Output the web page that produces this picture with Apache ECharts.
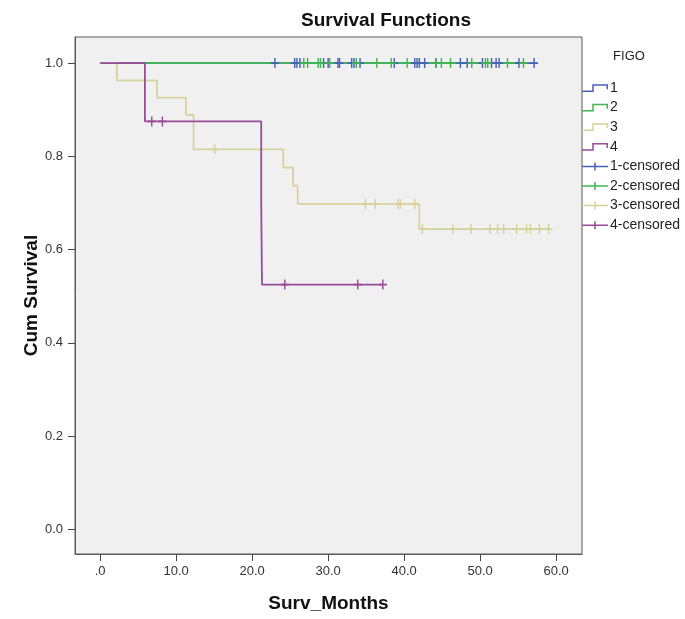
<!DOCTYPE html>
<html>
<head>
<meta charset="utf-8">
<script src="https://cdn.jsdelivr.net/npm/echarts@6/dist/echarts.min.js"></script>
<style>
  html, body { margin: 0; padding: 0; background: #ffffff; }
  #chart { width: 685px; height: 619px; }
</style>
</head>
<body>
<div id="chart"></div>
<script>
// Kaplan-Meier survival by FIGO stage: step times / survival, and censored times / survival.
const groupNames = ['1', '2', '3', '4'];
const groupColors = ['#4763B5', '#3FB652', '#D6D29C', '#984B97'];

const g1StepTimes = [0, 57.1];
const g1StepSurv = [1.0, 1.0];
const g1CensTimes = [23.0, 25.6, 25.9, 26.3, 29.4, 30.0, 31.3, 31.5, 33.1, 33.4, 34.2, 38.7, 41.4, 41.7, 42.0, 42.7, 44.2, 47.4, 48.3, 50.3, 51.5, 52.1, 52.5, 55.1, 57.1];
const g1CensSurv = [1, 1, 1, 1, 1, 1, 1, 1, 1, 1, 1, 1, 1, 1, 1, 1, 1, 1, 1, 1, 1, 1, 1, 1, 1];

const g2StepTimes = [0, 55.7];
const g2StepSurv = [1.0, 1.0];
const g2CensTimes = [26.8, 27.3, 28.7, 29.0, 30.2, 33.7, 36.4, 38.3, 40.4, 44.2, 44.9, 46.1, 48.9, 50.7, 51.0, 53.6, 55.7];
const g2CensSurv = [1, 1, 1, 1, 1, 1, 1, 1, 1, 1, 1, 1, 1, 1, 1, 1, 1];

const g3StepTimes = [0, 2.2, 7.5, 11.3, 12.3, 24.1, 25.4, 26.0, 42.0, 59.0];
const g3StepSurv = [1.0, 0.963, 0.926, 0.889, 0.815, 0.776, 0.737, 0.698, 0.644, 0.644];
const g3CensTimes = [15.1, 34.9, 36.2, 39.2, 39.5, 41.4, 42.4, 46.4, 48.8, 51.3, 52.3, 53.1, 54.8, 56.1, 56.6, 57.8, 59.0];
const g3CensSurv = [0.815, 0.698, 0.698, 0.698, 0.698, 0.698, 0.644, 0.644, 0.644, 0.644, 0.644, 0.644, 0.644, 0.644, 0.644, 0.644, 0.644];

const g4StepTimes = [0, 5.9, 21.2, 21.3, 37.2];
const g4StepSurv = [1.0, 0.875, 0.700, 0.525, 0.525];
const g4CensTimes = [6.8, 8.2, 24.3, 33.9, 37.2];
const g4CensSurv = [0.875, 0.875, 0.525, 0.525, 0.525];

const xTicks = [0, 10, 20, 30, 40, 50, 60];
const yTicks = [0, 0.2, 0.4, 0.6, 0.8, 1.0];

const steps = [
  [g1StepTimes, g1StepSurv],
  [g2StepTimes, g2StepSurv],
  [g3StepTimes, g3StepSurv],
  [g4StepTimes, g4StepSurv]
];
const censored = [
  [g1CensTimes, g1CensSurv],
  [g2CensTimes, g2CensSurv],
  [g3CensTimes, g3CensSurv],
  [g4CensTimes, g4CensSurv]
];

const pairs = (xs, ys) => xs.map((x, i) => [x, ys[i]]);

// Legend glyphs: a small step outline and a censoring cross
const stepIcon = 'path://M0,6.25 L10.25,6.25 L10.25,0 L26,0 L26,5 L24.5,5 L24.5,1.5 L11.75,1.5 L11.75,7.75 L0,7.75 Z';
const crossIcon = 'path://M0,3.25 L12.25,3.25 L12.25,0 L13.75,0 L13.75,3.25 L26,3.25 L26,4.75 L13.75,4.75 L13.75,8 L12.25,8 L12.25,4.75 L0,4.75 Z';
// Censoring mark on the curve
const plusMark = 'path://M4.1,0 L5.9,0 L5.9,4.1 L10,4.1 L10,5.9 L5.9,5.9 L5.9,10 L4.1,10 L4.1,5.9 L0,5.9 L0,4.1 L4.1,4.1 Z';

const FONT = 'Liberation Sans, Arial, sans-serif';

const series = [];
groupNames.forEach((name, i) => {
  series.push({
    name: name,
    type: 'line',
    step: 'end',
    data: pairs(steps[i][0], steps[i][1]),
    showSymbol: false,
    symbol: 'none',
    color: groupColors[i],
    lineStyle: { color: groupColors[i], width: 1.8 },
    itemStyle: { color: groupColors[i] },
    animation: false,
    z: 2 + i
  });
});
groupNames.forEach((name, i) => {
  series.push({
    name: name + '-censored',
    type: 'scatter',
    data: pairs(censored[i][0], censored[i][1]),
    symbol: plusMark,
    symbolSize: [8, 10],
    itemStyle: { color: groupColors[i], opacity: 1 },
    color: groupColors[i],
    animation: false,
    z: 10 + i
  });
});

const legendData = groupNames.map(n => ({ name: n, icon: stepIcon }))
  .concat(groupNames.map(n => ({ name: n + '-censored', icon: crossIcon })));

const fmtX = v => (v === 0 ? '.0' : v.toFixed(1));
const fmtY = v => v.toFixed(1);

const chart = echarts.init(document.getElementById('chart'), null, { renderer: 'canvas' });
chart.setOption({
  backgroundColor: '#ffffff',
  animation: false,
  title: [
    {
      text: 'Survival Functions',
      left: 381,
      top: 6,
      textAlign: 'center',
      textStyle: { fontFamily: FONT, fontSize: 19, fontWeight: 'bold', color: '#111' }
    },
    {
      text: 'FIGO',
      left: 624,
      top: 45,
      textAlign: 'center',
      textStyle: { fontFamily: FONT, fontSize: 13, fontWeight: 'normal', color: '#222' }
    }
  ],
  legend: {
    orient: 'vertical',
    left: 582,
    top: 81,
    padding: 0,
    itemWidth: 26,
    itemHeight: 8,
    itemGap: 5.6,
    data: legendData,
    textStyle: { fontFamily: FONT, fontSize: 14, color: '#222', padding: [0, 0, 0, -3] },
    selectedMode: false
  },
  grid: {
    left: 75,
    top: 37,
    right: 103,
    bottom: 65,
    containLabel: false,
    show: true,
    backgroundColor: '#F0F0F0',
    borderColor: '#5a5a5a',
    borderWidth: 1
  },
  xAxis: {
    type: 'value',
    min: -3.3,
    max: 63.4,
    name: 'Surv_Months',
    nameLocation: 'middle',
    nameGap: 40,
    nameMoveOverlap: false,
    nameTextStyle: { fontFamily: FONT, fontSize: 19, fontWeight: 'bold', color: '#111' },
    axisLine: { show: true, onZero: false, lineStyle: { color: '#5a5a5a', width: 1 } },
    axisTick: { show: true, length: 7, customValues: xTicks, lineStyle: { color: '#444', width: 1 } },
    axisLabel: {
      customValues: xTicks,
      formatter: fmtX,
      margin: 11,
      fontFamily: FONT,
      fontSize: 13,
      color: '#333'
    },
    splitLine: { show: false }
  },
  yAxis: {
    type: 'value',
    min: -0.053,
    max: 1.056,
    name: 'Cum Survival',
    nameLocation: 'middle',
    nameGap: 34,
    nameMoveOverlap: false,
    nameTextStyle: { fontFamily: FONT, fontSize: 19, fontWeight: 'bold', color: '#111' },
    axisLine: { show: true, onZero: false, lineStyle: { color: '#5a5a5a', width: 1 } },
    axisTick: { show: true, length: 7, customValues: yTicks, lineStyle: { color: '#444', width: 1 } },
    axisLabel: {
      customValues: yTicks,
      formatter: fmtY,
      margin: 12,
      fontFamily: FONT,
      fontSize: 13,
      color: '#333'
    },
    splitLine: { show: false }
  },
  series: series
});
</script>
</body>
</html>
